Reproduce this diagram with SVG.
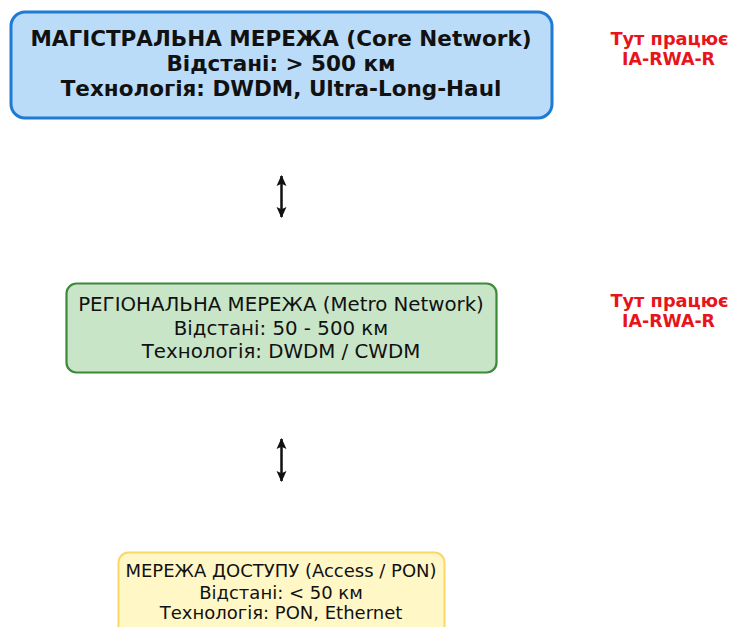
<svg xmlns="http://www.w3.org/2000/svg" width="730" height="627" viewBox="0 0 730 627">
<defs>
<marker id="ah" viewBox="0 0 10 10" refX="9" refY="5" markerWidth="11" markerHeight="11" orient="auto-start-reverse" markerUnits="userSpaceOnUse">
<path d="M0,0.5 L10,5 L0,9.5 L2,5 z" fill="#111"/>
</marker>
<style>
text{font-family:"DejaVu Sans","Noto Sans",sans-serif;text-anchor:middle;fill:#111}
.b{font-weight:bold}
.red{fill:#e8141c;font-weight:bold}
.conn{stroke:#111;stroke-width:2.5;fill:none}
</style>
</defs>
<rect width="730" height="627" fill="#fff"/>
<g id="core">
<rect x="11" y="12" width="541" height="106" rx="14" fill="#bbdcf8" stroke="#1f7ad4" stroke-width="3"/>
<text class="b" x="281" y="46" font-size="21.5">МАГІСТРАЛЬНА МЕРЕЖА (Core Network)</text>
<text class="b" x="281" y="71" font-size="21.5">Відстані: &gt; 500 км</text>
<text class="b" x="281" y="96" font-size="21.5">Технологія: DWDM, Ultra-Long-Haul</text>
</g>
<g id="metro">
<rect x="66.5" y="283.5" width="430" height="89" rx="10" fill="#c8e5c8" stroke="#3a8a3a" stroke-width="2.2"/>
<text x="281" y="311" font-size="19.8">РЕГІОНАЛЬНА МЕРЕЖА (Metro Network)</text>
<text x="281" y="335" font-size="19.8">Відстані: 50 - 500 км</text>
<text x="281" y="358" font-size="19.8">Технологія: DWDM / CWDM</text>
</g>
<g id="access">
<rect x="118.5" y="552.5" width="326" height="90" rx="10" fill="#fff7c6" stroke="#f8d868" stroke-width="2"/>
<text x="281" y="577" font-size="18">МЕРЕЖА ДОСТУПУ (Access / PON)</text>
<text x="281" y="599" font-size="18">Відстані: &lt; 50 км</text>
<text x="281" y="619" font-size="18">Технологія: PON, Ethernet</text>
</g>
<g id="note1">
<text class="red" x="669.5" y="45" font-size="17.8">Тут працює</text>
<text class="red" x="668.5" y="65" font-size="17.4">IA-RWA-R</text>
</g>
<g id="note2">
<text class="red" x="669.5" y="307" font-size="17.8">Тут працює</text>
<text class="red" x="668.5" y="327" font-size="17.4">IA-RWA-R</text>
</g>
<g id="connectors">
<line class="conn" x1="281.5" y1="176" x2="281.5" y2="217" marker-start="url(#ah)" marker-end="url(#ah)"/>
<line class="conn" x1="281.5" y1="439" x2="281.5" y2="481" marker-start="url(#ah)" marker-end="url(#ah)"/>
</g>
</svg>
